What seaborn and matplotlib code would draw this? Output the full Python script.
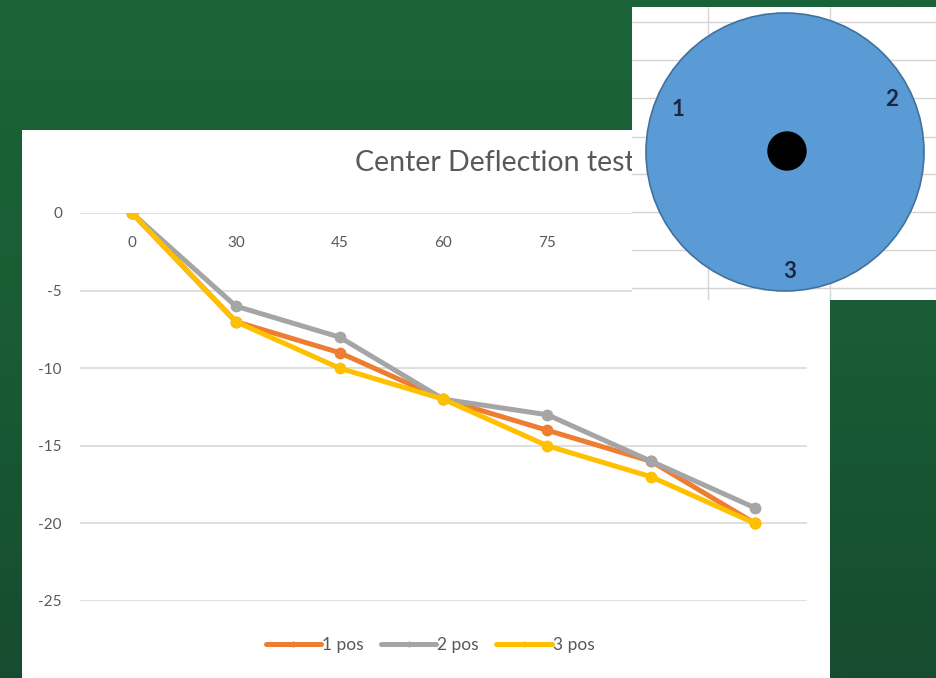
import numpy as np
import pandas as pd
import matplotlib
matplotlib.use("Agg")
import matplotlib.pyplot as plt
from matplotlib.patches import Circle
from matplotlib.colors import LinearSegmentedColormap
import seaborn as sns

# ---- data ----
angles = ["0", "30", "45", "60", "75", "90", "105"]
pos1 = [0, -7, -9, -12, -14, -16, -20]
pos2 = [0, -6, -8, -12, -13, -16, -19]
pos3 = [0, -7, -10, -12, -15, -17, -20]
series_names = ["1 pos", "2 pos", "3 pos"]
y_ticks = [0, -5, -10, -15, -20, -25]
title_text = "Center Deflection test"
circle_labels = ["1", "2", "3"]

df = pd.DataFrame({
    "angle": angles * 3,
    "value": pos1 + pos2 + pos3,
    "series": [series_names[0]] * len(angles) + [series_names[1]] * len(angles) + [series_names[2]] * len(angles),
})

sns.set_theme(style="white")
plt.rcParams["font.family"] = ["Lato", "DejaVu Sans"]

W, H = 937, 678
fig = plt.figure(figsize=(W / 100, H / 100), dpi=100)

def fx(px):
    return px / W

def fy(py):
    return 1 - py / H

# green slide background with vertical gradient
bg = fig.add_axes([0, 0, 1, 1], zorder=0)
grad = np.linspace(0, 1, 256).reshape(-1, 1)
cmap = LinearSegmentedColormap.from_list("g", ["#1b6439", "#195c35", "#164c2f"])
bg.imshow(grad, aspect="auto", cmap=cmap, extent=[0, 1, 0, 1])
bg.set_axis_off()

# white chart panel
panel = fig.add_axes([fx(22), 0, fx(830) - fx(22), fy(130)], zorder=1)
panel.set_facecolor("white")
panel.set_xticks([]); panel.set_yticks([])
for s in panel.spines.values():
    s.set_visible(False)

# main chart axes
ax = fig.add_axes([fx(80), fy(601), fx(807) - fx(80), fy(213) - fy(601)], zorder=2)
ax.patch.set_alpha(0)
palette = {"1 pos": "#ED7D31", "2 pos": "#A5A5A5", "3 pos": "#FFC000"}
sns.lineplot(data=df, x="angle", y="value", hue="series", palette=palette,
             marker="o", markersize=8.5, markeredgewidth=0, linewidth=3.6,
             ax=ax, legend=True, sort=False)
ax.set_xlim(-0.5, len(angles) - 0.5)
ax.set_ylim(-25, 0)
ax.set_yticks(y_ticks)
ax.set_yticklabels([str(v) for v in y_ticks])
ax.yaxis.grid(True, color="#d9d9d9", linewidth=1.2)
ax.set_axisbelow(True)
for s in ax.spines.values():
    s.set_visible(False)
ax.tick_params(axis="y", length=0, pad=13, labelsize=11, labelcolor="#595959")
ax.tick_params(axis="x", length=0, labeltop=False, labelbottom=False, top=False, bottom=False)
ax.set_xlabel(""); ax.set_ylabel("")

# category labels sit just under the 0 line (Excel "next to axis")
for i, a in enumerate(angles):
    ax.text(i, -1.45, a, ha="center", va="top", fontsize=11, color="#595959", clip_on=False)

leg = ax.legend(loc="center", bbox_to_anchor=(fx(430), fy(645)),
                bbox_transform=fig.transFigure, ncol=3, frameon=False,
                fontsize=12.5, handlelength=3.2, columnspacing=1.0,
                handletextpad=0.05, labelcolor="#595959", markerscale=0.5)

fig.text(fx(355), fy(163), title_text, ha="left", va="center",
         fontsize=20.5, color="#595959", zorder=3)

# inset picture of the plate
ins = fig.add_axes([fx(632), fy(300), fx(937) - fx(632), fy(7) - fy(300)], zorder=5)
ins.set_xlim(632, 937)
ins.set_ylim(300, 7)
ins.set_facecolor("white")
for x in [708, 830]:
    ins.axvline(x, color="#d4d4d4", linewidth=1, zorder=1)
for y in [22, 60, 98, 137, 174, 212, 250, 288]:
    ins.axhline(y, color="#d4d4d4", linewidth=1, zorder=1)
ins.add_patch(Circle((785, 152), 139, facecolor="#5B9BD5", edgecolor="#41719C", linewidth=1.2, zorder=3))
ins.add_patch(Circle((787, 151), 19, facecolor="black", edgecolor="black", zorder=4))
for (lx, ly), t in zip([(678, 110), (892, 100), (790, 272)], circle_labels):
    ins.text(lx, ly, t, ha="center", va="center", fontsize=16, fontweight="bold",
             color="#1c2640", zorder=5)
ins.set_xticks([]); ins.set_yticks([])
for s in ins.spines.values():
    s.set_visible(False)

fig.savefig("out.png", dpi=100)
